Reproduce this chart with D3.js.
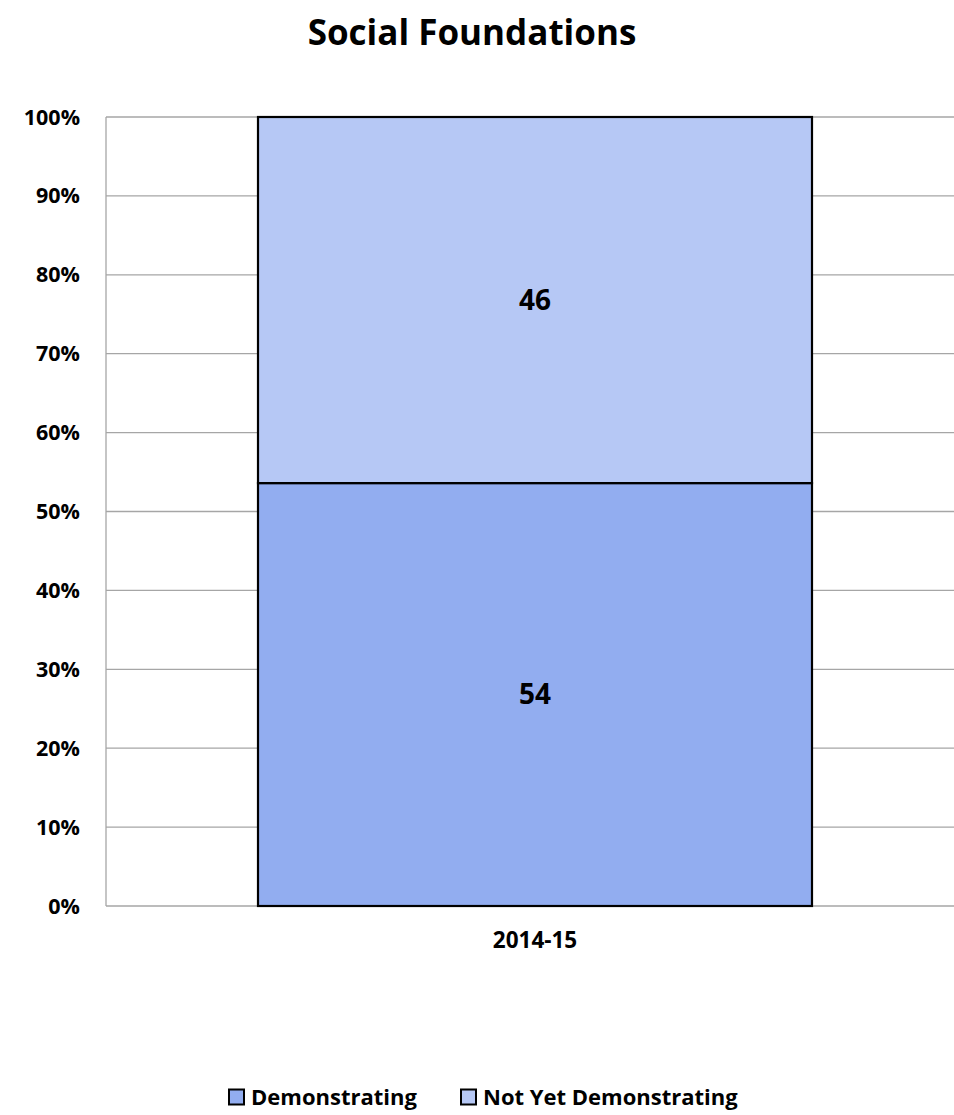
<!DOCTYPE html>
<html>
<head>
<meta charset="utf-8">
<script src="https://cdn.jsdelivr.net/npm/d3@7"></script>
<style>
  body { margin: 0; background: #fff; }
  svg { display: block; font-family: "Open Sans", Lato, sans-serif; font-weight: bold; }
</style>
</head>
<body>
<div id="chart"></div>
<script>
// Data
const years = ["2014-15"];
const demonstrating = [53.6];
const notYet = [46.4];
const seriesNames = ["Demonstrating", "Not Yet Demonstrating"];
const seriesColors = ["#92adf0", "#b6c8f5"];
const yTicks = [0, 10, 20, 30, 40, 50, 60, 70, 80, 90, 100];

const width = 954;
const height = 1115;
const margin = { top: 117, right: -10, bottom: 209, left: 106 };

const svg = d3.select("#chart")
    .append("svg")
    .attr("width", width)
    .attr("height", height);

const x = d3.scaleBand()
    .domain(years)
    .range([margin.left, width - margin.right])
    .padding(0.2153);

const y = d3.scaleLinear()
    .domain([0, 100])
    .range([height - margin.bottom, margin.top]);

// Title
svg.append("text")
    .attr("x", 472)
    .attr("y", 45)
    .attr("text-anchor", "middle")
    .attr("font-size", 35)
    .text("Social Foundations");

// Gridlines
svg.append("g")
    .selectAll("line")
    .data(yTicks)
    .join("line")
    .attr("x1", margin.left)
    .attr("x2", width)
    .attr("y1", d => y(d))
    .attr("y2", d => y(d))
    .attr("stroke", "#a6a6a6")
    .attr("stroke-width", 1.3);

// Left axis line
svg.append("line")
    .attr("x1", margin.left)
    .attr("x2", margin.left)
    .attr("y1", y(0))
    .attr("y2", y(100))
    .attr("stroke", "#a6a6a6")
    .attr("stroke-width", 1.3);

// Y tick labels
svg.append("g")
    .selectAll("text")
    .data(yTicks)
    .join("text")
    .attr("x", 80)
    .attr("y", d => y(d))
    .attr("dy", "0.35em")
    .attr("text-anchor", "end")
    .attr("font-size", 21.5)
    .text(d => d + "%");

// Stacked bars
const rows = years.map((yr, i) => ({ year: yr, Demonstrating: demonstrating[i], "Not Yet Demonstrating": notYet[i] }));
const stack = d3.stack().keys(seriesNames)(rows);

stack.forEach((layer, li) => {
    const g = svg.append("g");
    g.selectAll("rect")
        .data(layer)
        .join("rect")
        .attr("x", d => x(d.data.year))
        .attr("width", x.bandwidth())
        .attr("y", d => y(d[1]))
        .attr("height", d => y(d[0]) - y(d[1]))
        .attr("fill", seriesColors[li])
        .attr("stroke", "#000")
        .attr("stroke-width", 2.2);
    g.selectAll("text")
        .data(layer)
        .join("text")
        .attr("x", d => x(d.data.year) + x.bandwidth() / 2)
        .attr("y", d => y((d[0] + d[1]) / 2))
        .attr("dy", "0.35em")
        .attr("text-anchor", "middle")
        .attr("font-size", 28)
        .text(d => Math.round(d[1] - d[0]));
});

// X labels
svg.append("g")
    .selectAll("text")
    .data(years)
    .join("text")
    .attr("x", d => x(d) + x.bandwidth() / 2)
    .attr("y", 940)
    .attr("dy", "0.35em")
    .attr("text-anchor", "middle")
    .attr("font-size", 22.5)
    .text(d => d);

// Legend
const legendX = [229, 461];
const legend = svg.append("g")
    .selectAll("g")
    .data(seriesNames)
    .join("g")
    .attr("transform", (d, i) => `translate(${legendX[i]}, 1097)`);

legend.append("rect")
    .attr("x", 0)
    .attr("y", -7.5)
    .attr("width", 15)
    .attr("height", 15)
    .attr("fill", (d, i) => seriesColors[i])
    .attr("stroke", "#000")
    .attr("stroke-width", 2);

legend.append("text")
    .attr("x", 22)
    .attr("y", 0)
    .attr("dy", "0.35em")
    .attr("font-size", 22)
    .text(d => d);
</script>
</body>
</html>
